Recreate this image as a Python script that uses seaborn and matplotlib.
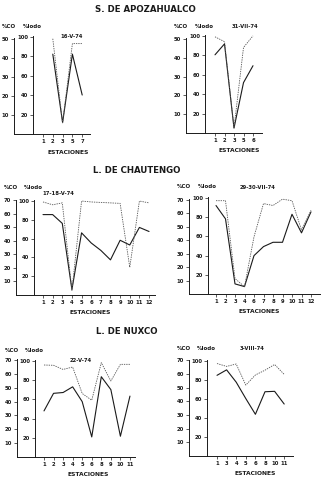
import numpy as np
import pandas as pd
import matplotlib
matplotlib.use("Agg")
import matplotlib.pyplot as plt
import seaborn as sns

sns.set_theme(style="white")
plt.rcParams['font.family'] = ['DejaVu Sans']

# ---------------- data ----------------
nan = np.nan
p1_labels = ["1", "2", "3", "5", "7"]
p1_co = [nan, 42, 6, 42, 20.5]
p1_lodo = [nan, 98, 11.5, 93, 93]

p2_labels = ["1", "2", "3", "5", "6"]
p2_co = [41.6, 47.4, 2.6, 26.8, 35.8]
p2_lodo = [99, 94, 5, 88, 100]

p3_labels = ["1", "2", "3", "4", "5", "6", "7", "8", "9", "10", "11", "12"]
p3_co = [59.5, 59.5, 53, 4, 46, 38.5, 33, 26, 40.5, 37, 50, 47]
p3_lodo = [99, 96, 98, 5, 100, 99, 98.5, 98, 97.5, 29.5, 100, 98]

p4_labels = ["1", "2", "3", "4", "6", "7", "8", "9", "10", "11", "12"]
p4_co = [65.7, 55.8, 7.5, 5.5, 28.5, 35.2, 38.4, 38.4, 59.2, 45.4, 61]
p4_lodo = [97, 97, 16, 7.6, 59.5, 94, 92, 98.6, 97, 66.5, 87]

p5_labels = ["1", "2", "3", "4", "5", "6", "8", "9", "10", "11"]
p5_co = [33.3, 46, 46.6, 50.7, 40, 14.5, 58, 48.7, 15, 44]
p5_lodo = [95.6, 95.3, 91, 93.5, 66, 59, 98, 79, 96.3, 96.3]

p6_labels = ["1", "3", "4", "5", "6", "8", "10", "11"]
p6_co = [59, 63, 54, 42, 30.5, 47, 47.3, 38]
p6_lodo = [97, 94, 96.5, 74.4, 85, 90, 96, 85.6]

co_ticks_small = [10, 20, 30, 40, 50]
co_ticks_big = [10, 20, 30, 40, 50, 60, 70]
lodo_ticks = [20, 40, 60, 80, 100]

titles = ["S. DE APOZAHUALCO", "L. DE CHAUTENGO", "L. DE NUXCO"]
dates = ["16-V-74", "31-VII-74", "17-18-V-74", "29-30-VII-74", "22-V-74", "3-VIII-74"]

# ---------------- layout ----------------
W, H = 324, 486
fig = plt.figure(figsize=(W / 100, H / 100), dpi=100)
fig.patch.set_facecolor("white")

FS = 3.8
INK = "#1a1a1a"


def fx(x):
    return x / W


def fy(y):
    return 1 - y / H


def panel(geom, labels, co, lodo, co_ticks, date, date_xy, hdr_y, xl_xy):
    co_x, lodo_x, base_y, right_x, top_y, x0, dx, co_top, lodo_top = geom
    ax = fig.add_axes([fx(co_x), fy(base_y), (right_x - co_x) / W, (base_y - top_y) / H])
    ax2 = ax.twinx()
    df = pd.DataFrame({"pos": np.arange(len(labels)), "co": co, "lodo": lodo})
    sns.lineplot(data=df, x="pos", y="co", ax=ax, color=INK, lw=0.8)
    sns.lineplot(data=df, x="pos", y="lodo", ax=ax2, color="#555555", lw=0.6,
                 linestyle=(0, (1.6, 1.2)))
    ax.set_xlim((co_x - x0) / dx, (right_x - x0) / dx)
    ax.set_ylim(0, co_top)
    ax2.set_ylim(0, lodo_top)
    for a in (ax, ax2):
        a.set_xlabel("")
        a.set_ylabel("")
        a.patch.set_alpha(0)
        for s in a.spines.values():
            s.set_visible(False)
            s.set_color(INK)
            s.set_linewidth(0.7)
    ax.spines["left"].set_visible(True)
    ax.spines["bottom"].set_visible(True)
    ax.spines["left"].set_bounds(0, co_ticks[-1] + 0.5)
    ax2.spines["left"].set_visible(True)
    ax2.spines["left"].set_position(("axes", (lodo_x - co_x) / (right_x - co_x)))
    ax2.spines["left"].set_bounds(0, 101)
    ax2.yaxis.set_ticks_position("left")
    ax.set_yticks(co_ticks)
    ax.set_yticklabels([str(t) for t in co_ticks])
    ax2.set_yticks(lodo_ticks)
    ax2.set_yticklabels([str(t) for t in lodo_ticks])
    ax.set_xticks(np.arange(len(labels)))
    ax.set_xticklabels(labels)
    ax.tick_params(axis="both", labelsize=FS, length=2, width=0.5, pad=1.5,
                   colors=INK, left=True, bottom=True)
    ax2.tick_params(axis="y", labelsize=FS, length=2, width=0.5, pad=1.5,
                    colors=INK, left=True, right=False, labelleft=True, labelright=False)
    for lab in ax.get_xticklabels() + ax.get_yticklabels() + ax2.get_yticklabels():
        lab.set_fontweight("bold")
    fig.text(fx(co_x - 12), fy(hdr_y), "%CO", fontsize=4, weight="bold", color=INK,
             ha="left", va="center")
    fig.text(fx(lodo_x - 10), fy(hdr_y), "%lodo", fontsize=4, weight="bold", color=INK,
             ha="left", va="center")
    fig.text(fx(date_xy[0]), fy(date_xy[1]), date, fontsize=3.8, weight="bold",
             color=INK, ha="center", va="center")
    fig.text(fx(xl_xy[0]), fy(xl_xy[1]), "ESTACIONES", fontsize=4.3, weight="bold",
             color=INK, ha="center", va="center")
    return ax


# geom: co_x, lodo_x, base_y, right_x, top_y, first_station_x, spacing, co_top, lodo_top
panel((14, 33, 134, 90, 30, 43, 9.8, 54.7, 107), p1_labels, p1_co, p1_lodo,
      co_ticks_small, dates[0], (72, 37), 27, (68, 152))
panel((186, 205, 133, 262, 30, 215, 9.5, 54.8, 106), p2_labels, p2_co, p2_lodo,
      co_ticks_small, dates[1], (245, 27), 27, (239, 150))
panel((16, 34, 295, 155, 195, 43, 9.64, 74, 106.4), p3_labels, p3_co, p3_lodo,
      co_ticks_big, dates[2], (58, 193), 187, (90, 312))
panel((189, 208, 294, 320, 193, 216, 9.5, 75, 105), p4_labels, p4_co, p4_lodo,
      co_ticks_big, dates[3], (258, 187), 186, (259, 311))
panel((17, 35, 457, 135, 355, 44, 9.55, 73.7, 106), p5_labels, p5_co, p5_lodo,
      co_ticks_big, dates[4], (81, 360), 350, (88, 474))
panel((189, 207, 456, 293, 354, 217, 9.6, 74.6, 107), p6_labels, p6_co, p6_lodo,
      co_ticks_big, dates[5], (252, 348), 348, (255, 473))

fig.text(fx(145), fy(10), titles[0], fontsize=6.2, weight="bold", color=INK,
         ha="center", va="center")
fig.text(fx(137), fy(170), titles[1], fontsize=6.2, weight="bold", color=INK,
         ha="center", va="center")
fig.text(fx(127), fy(331), titles[2], fontsize=6.2, weight="bold", color=INK,
         ha="center", va="center")

fig.savefig("out.png", dpi=100, facecolor="white")
